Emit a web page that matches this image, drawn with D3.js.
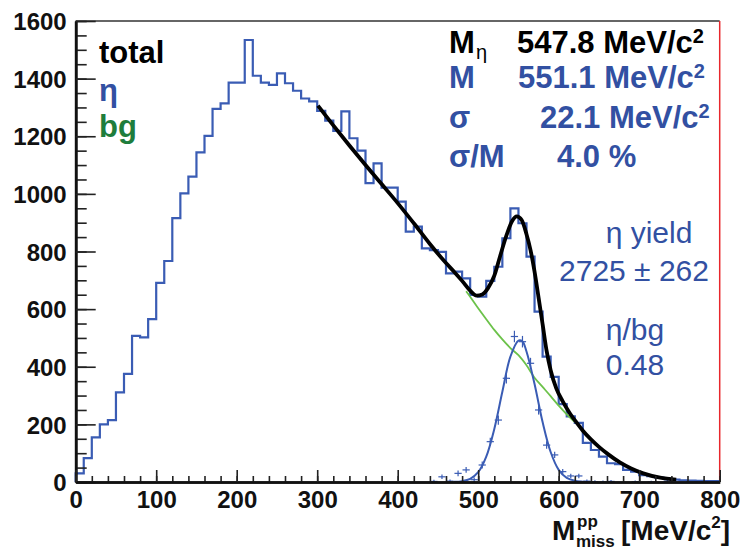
<!DOCTYPE html>
<html><head><meta charset="utf-8">
<script src="https://cdn.jsdelivr.net/npm/d3@7"></script>
<style>
html,body{margin:0;padding:0;background:#fff;}
svg{display:block;font-family:"Liberation Sans",Arial,sans-serif;}
</style></head>
<body><svg id="c" width="744" height="550"></svg>
<script>
// ---- data ----
const binWidth = 10;
const binLow = d3.range(0, 800, 10);
const counts = [30,83,155,200,215,311,375,507,502,565,
  691,767,916,1002,1060,1144,1201,1295,1314,1386,
  1386,1534,1410,1386,1378,1418,1384,1358,1331,1321,
  1288,1254,1219,1286,1193,1150,1037,1106,1022,1022,
  973,869,886,811,805,799,724,730,707,649,
  643,698,747,846,950,898,782,591,435,365,
  270,228,205,136,111,88,65,62,42,36,
  24,20,15,12,8,6,5,4,3,3];
// eta signal points (background subtracted)
const sigX = [445,455,465,475,485,495,505,515,525,535,545,555,565,575,585,595,605,615,625,635,645,655,665,695,715,735];
const sigY = [2,18,3,30,42,8,59,140,215,360,505,487,412,250,128,94,36,21,21,3,1,0,2,1,0,3];
const sigErr = [6,8,6,10,10,8,12,14,16,18,20,20,19,16,13,11,9,8,8,6,5,5,5,4,4,4];
// eta Gaussian fit curve
const gausX = [470,480,490,500,510,520,530,540,550,555,560,570,580,590,600,610,620,630,640];
const gausY = [0.5,3,11,34,88,184,313,435,491,488,453,340,208,104,42,14,4,1,0];
// background fit curve
const bgX = [485,490,500,510,520,530,540,550,560,570,580,590,600,610,620];
const bgY = [662,643,603,565,528,495,465,440,405,362,330,298,265,235,208];
// total fit curve
const totX = [301,320,340,360,380,400,420,440,460,470,480,490,498,505,512,520,527,535,542,548,554,560,565,570,575,580,585,590,597,605,614,622,630,640,650,662,676,690,705,726,746];
const totY = [1306,1238,1168,1100,1034,968,898,826,760,730,698,664,647,651,672,716,782,855,905,922,909,860,805,730,640,548,455,388,325,280,238,207,178,148,122,95,68,47,30,15,8];
const xTicks = [0,100,200,300,400,500,600,700,800];
const yTicks = [0,200,400,600,800,1000,1200,1400,1600];

const blue = "#3250a2", green = "#1e7d3c", lineGreen = "#6cc24a", histBlue = "#3a5cb4";

const svg = d3.select("#c");
const x = d3.scaleLinear().domain([0,800]).range([75.7,719.7]);
const y = d3.scaleLinear().domain([0,1600]).range([482,21]);

// frame top and right
svg.append("line").attr("x1",x(0)).attr("x2",x(800)).attr("y1",y(1600)).attr("y2",y(1600))
  .attr("stroke","#333").attr("stroke-width",1.5);
svg.append("line").attr("x1",x(800)).attr("x2",x(800)).attr("y1",y(1600)).attr("y2",y(0))
  .attr("stroke","#e8262c").attr("stroke-width",1.5);

// histogram
const stepPts = [[0,0]];
binLow.forEach((lo,i)=>{ stepPts.push([lo,counts[i]]); stepPts.push([lo+binWidth,counts[i]]); });
stepPts.push([800,0]);
svg.append("path").attr("d", d3.line().x(d=>x(d[0])).y(d=>y(d[1]))(stepPts))
  .attr("fill","none").attr("stroke",histBlue).attr("stroke-width",2.2);

// background fit (green)
svg.append("path").attr("d", d3.line().curve(d3.curveCatmullRom).x((d,i)=>x(bgX[i])).y((d,i)=>y(bgY[i]))(bgX))
  .attr("fill","none").attr("stroke",lineGreen).attr("stroke-width",1.8);

// signal points
const sg = svg.append("g").attr("stroke",histBlue).attr("stroke-width",1.2);
sigX.forEach((cx,i)=>{
  sg.append("line").attr("x1",x(cx-4.5)).attr("x2",x(cx+4.5)).attr("y1",y(sigY[i])).attr("y2",y(sigY[i]));
  sg.append("line").attr("x1",x(cx)).attr("x2",x(cx))
    .attr("y1",y(Math.max(0,sigY[i]-sigErr[i]))).attr("y2",y(sigY[i]+sigErr[i]));
});
// gaussian fit
svg.append("path").attr("d", d3.line().curve(d3.curveCatmullRom).x((d,i)=>x(gausX[i])).y((d,i)=>y(gausY[i]))(gausX))
  .attr("fill","none").attr("stroke",histBlue).attr("stroke-width",2);

// total fit (black)
svg.append("path").attr("d", d3.line().curve(d3.curveMonotoneX).x((d,i)=>x(totX[i])).y((d,i)=>y(totY[i]))(totX))
  .attr("fill","none").attr("stroke","#000").attr("stroke-width",3.8).attr("stroke-linejoin","round");

// axes
const yMinor = svg.append("g").attr("transform",`translate(${x(0)},0)`)
  .call(d3.axisLeft(y).tickValues(d3.range(0,1601,50)).tickSizeInner(-11).tickSizeOuter(0).tickFormat(""));
const yAx = svg.append("g").attr("transform",`translate(${x(0)},0)`)
  .call(d3.axisLeft(y).tickValues(yTicks).tickSizeInner(-20).tickSizeOuter(0).tickPadding(9).tickFormat(d3.format("d")));
const xMinor = svg.append("g").attr("transform",`translate(0,${y(0)})`)
  .call(d3.axisBottom(x).tickValues(d3.range(0,801,20)).tickSizeInner(-6).tickSizeOuter(0).tickFormat(""));
const xAx = svg.append("g").attr("transform",`translate(0,${y(0)})`)
  .call(d3.axisBottom(x).tickValues(xTicks).tickSizeInner(-12).tickSizeOuter(0).tickPadding(9).tickFormat(d3.format("d")));
[yMinor,yAx,xMinor,xAx].forEach(g=>{
  g.selectAll("line").attr("stroke","#222").attr("stroke-width",1.6);
  g.select(".domain").attr("stroke","#111").attr("stroke-width",2.6);
  g.selectAll("text").attr("font-family","'Liberation Sans',Arial,sans-serif")
    .attr("font-size",24).attr("font-weight","bold").attr("fill","#111");
});
yAx.selectAll("text").attr("dy","0.36em");
xAx.selectAll("text").attr("dy","0.72em");

// helper
function txt(str,tx,ty,opt){
  const t = svg.append("text").attr("x",tx).attr("y",ty)
    .attr("font-size",opt.size||31).attr("font-weight",opt.weight||"bold")
    .attr("fill",opt.fill||"#000").attr("text-anchor",opt.anchor||"start").text(str);
  return t;
}
function supText(str,sup,tx,ty,opt){
  const t = svg.append("text").attr("x",tx).attr("y",ty)
    .attr("font-size",opt.size||31).attr("font-weight",opt.weight||"bold")
    .attr("fill",opt.fill||"#000");
  t.append("tspan").text(str);
  t.append("tspan").attr("dy",-10).attr("font-size",20).text(sup);
  return t;
}

// left legend
txt("total",99,63,{fill:"#000"});
txt("η",99,101,{fill:blue});
txt("bg",99,137,{fill:green});

// right top block
txt("M",449,53,{fill:"#000"});
txt("η",476,59,{fill:"#000",size:20,weight:"normal"});
supText("547.8 MeV/c","2",517,53,{fill:"#000"});
txt("M",449,88,{fill:blue});
supText("551.1 MeV/c","2",518,88,{fill:blue});
txt("σ",449,128,{fill:blue});
supText("22.1 MeV/c","2",540,128,{fill:blue});
txt("σ/M",449,167,{fill:blue});
txt("4.0 %",557,167,{fill:blue});

// yield texts
txt("η yield",649,243,{fill:blue,size:30,weight:"normal",anchor:"middle"});
txt("2725 ± 262",634,281,{fill:blue,size:30,weight:"normal",anchor:"middle"});
txt("η/bg",635,340,{fill:blue,size:30,weight:"normal",anchor:"middle"});
txt("0.48",635,375,{fill:blue,size:30,weight:"normal",anchor:"middle"});

// x axis title
txt("M",552,540,{fill:"#111",size:28});
txt("pp",577,527,{fill:"#111",size:17});
txt("miss",576,547,{fill:"#111",size:17});
const xt = svg.append("text").attr("x",621).attr("y",540).attr("font-size",28).attr("font-weight","bold").attr("fill","#111");
xt.append("tspan").text("[MeV/c");
xt.append("tspan").attr("dy",-12).attr("font-size",17).text("2");
xt.append("tspan").attr("dy",12).text("]");
</script></body></html>
